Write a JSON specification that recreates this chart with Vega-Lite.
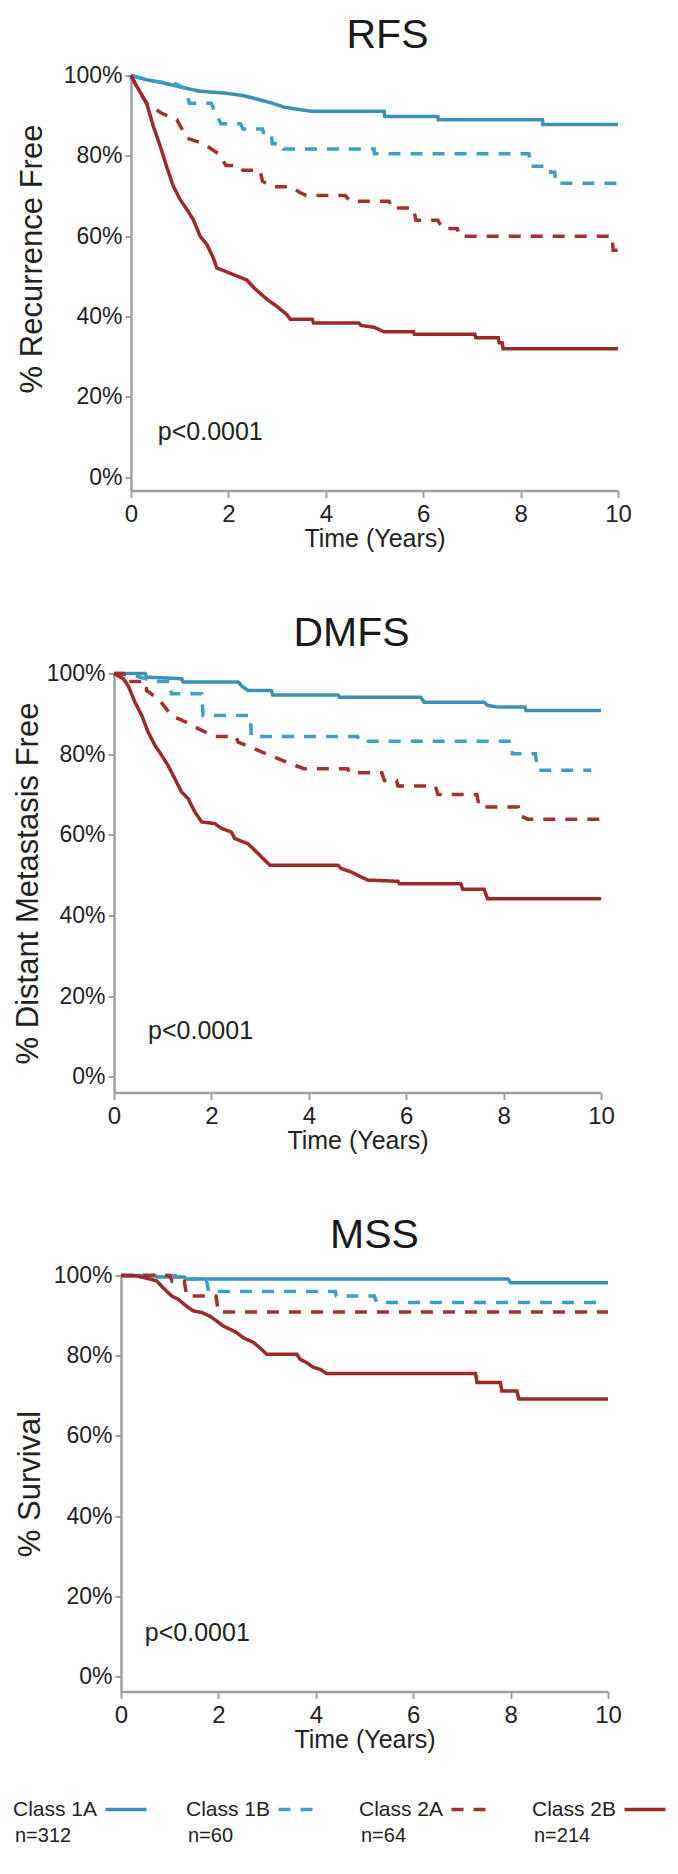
{
  "$schema": "https://vega.github.io/schema/vega-lite/v6.json",
  "background": "white",
  "padding": {"left": 10, "top": 14.5, "right": 4, "bottom": 4},
  "config": {
    "font": "Liberation Sans",
    "view": {"stroke": null},
    "axis": {"domainColor": "#a0a0a0", "domainWidth": 2.5, "tickColor": "#a0a0a0", "tickWidth": 2, "tickSize": 7, "labelColor": "#222222", "titleColor": "#222222", "grid": false, "titleFontWeight": "normal", "labelFont": "Liberation Sans", "titleFont": "Liberation Sans"},
    "axisX": {"labelFontSize": 24, "titleFontSize": 25, "labelPadding": 5, "titlePadding": 0, "labelFlush": false},
    "axisY": {"labelFontSize": 23, "titleFontSize": 31, "labelPadding": 3, "tickSize": 6},
    "title": {"fontSize": 41, "fontWeight": "normal", "color": "#1a1a1a", "offset": 8, "frame": "group"},
    "legend": {"disable": true}
  },
  "datasets": {
    "legend": [
      {"cls": "Class 1A", "n": "n=312"},
      {"cls": "Class 1B", "n": "n=60"},
      {"cls": "Class 2A", "n": "n=64"},
      {"cls": "Class 2B", "n": "n=214"}
    ],
    "pvals": [
      {"panel": "RFS", "label": "p<0.0001"},
      {"panel": "DMFS", "label": "p<0.0001"},
      {"panel": "MSS", "label": "p<0.0001"}
    ],
    "curves": [
      {"panel":"RFS","cls":"Class 1A","t":0,"s":100},{"panel":"RFS","cls":"Class 1A","t":0.3,"s":99},{"panel":"RFS","cls":"Class 1A","t":0.65,"s":98.2},{"panel":"RFS","cls":"Class 1A","t":1.0,"s":97.2},{"panel":"RFS","cls":"Class 1A","t":1.4,"s":96.1},{"panel":"RFS","cls":"Class 1A","t":1.95,"s":95.6},{"panel":"RFS","cls":"Class 1A","t":2.3,"s":95},{"panel":"RFS","cls":"Class 1A","t":2.6,"s":94.1},{"panel":"RFS","cls":"Class 1A","t":2.9,"s":93.1},{"panel":"RFS","cls":"Class 1A","t":3.15,"s":92.1},{"panel":"RFS","cls":"Class 1A","t":3.7,"s":91.1},{"panel":"RFS","cls":"Class 1A","t":5.2,"s":91.1},{"panel":"RFS","cls":"Class 1A","t":5.21,"s":89.8},{"panel":"RFS","cls":"Class 1A","t":6.3,"s":89.8},{"panel":"RFS","cls":"Class 1A","t":6.31,"s":89.0},{"panel":"RFS","cls":"Class 1A","t":8.45,"s":89.0},{"panel":"RFS","cls":"Class 1A","t":8.46,"s":87.8},{"panel":"RFS","cls":"Class 1A","t":10,"s":87.8},
      {"panel":"RFS","cls":"Class 1B","t":0,"s":100},{"panel":"RFS","cls":"Class 1B","t":0.45,"s":98.6},{"panel":"RFS","cls":"Class 1B","t":0.9,"s":98},{"panel":"RFS","cls":"Class 1B","t":1.1,"s":96.8},{"panel":"RFS","cls":"Class 1B","t":1.2,"s":93.1},{"panel":"RFS","cls":"Class 1B","t":1.65,"s":93.1},{"panel":"RFS","cls":"Class 1B","t":1.7,"s":91.5},{"panel":"RFS","cls":"Class 1B","t":1.85,"s":88.0},{"panel":"RFS","cls":"Class 1B","t":2.25,"s":88.0},{"panel":"RFS","cls":"Class 1B","t":2.3,"s":86.7},{"panel":"RFS","cls":"Class 1B","t":2.7,"s":86.7},{"panel":"RFS","cls":"Class 1B","t":2.72,"s":85.8},{"panel":"RFS","cls":"Class 1B","t":2.88,"s":85.8},{"panel":"RFS","cls":"Class 1B","t":2.9,"s":83.0},{"panel":"RFS","cls":"Class 1B","t":3.1,"s":83.0},{"panel":"RFS","cls":"Class 1B","t":3.13,"s":81.7},{"panel":"RFS","cls":"Class 1B","t":4.99,"s":81.7},{"panel":"RFS","cls":"Class 1B","t":5.0,"s":80.5},{"panel":"RFS","cls":"Class 1B","t":8.17,"s":80.5},{"panel":"RFS","cls":"Class 1B","t":8.2,"s":77.4},{"panel":"RFS","cls":"Class 1B","t":8.6,"s":77.4},{"panel":"RFS","cls":"Class 1B","t":8.62,"s":75.9},{"panel":"RFS","cls":"Class 1B","t":8.7,"s":75.9},{"panel":"RFS","cls":"Class 1B","t":8.72,"s":73.2},{"panel":"RFS","cls":"Class 1B","t":10,"s":73.2},
      {"panel":"RFS","cls":"Class 2A","t":0,"s":100},{"panel":"RFS","cls":"Class 2A","t":0.15,"s":96.4},{"panel":"RFS","cls":"Class 2A","t":0.32,"s":93.1},{"panel":"RFS","cls":"Class 2A","t":0.63,"s":90.6},{"panel":"RFS","cls":"Class 2A","t":0.94,"s":89.0},{"panel":"RFS","cls":"Class 2A","t":1.15,"s":84.4},{"panel":"RFS","cls":"Class 2A","t":1.49,"s":83.0},{"panel":"RFS","cls":"Class 2A","t":1.8,"s":80.5},{"panel":"RFS","cls":"Class 2A","t":1.95,"s":77.6},{"panel":"RFS","cls":"Class 2A","t":2.2,"s":77.6},{"panel":"RFS","cls":"Class 2A","t":2.3,"s":76.4},{"panel":"RFS","cls":"Class 2A","t":2.65,"s":76.4},{"panel":"RFS","cls":"Class 2A","t":2.7,"s":73.7},{"panel":"RFS","cls":"Class 2A","t":2.9,"s":72.3},{"panel":"RFS","cls":"Class 2A","t":3.3,"s":72.3},{"panel":"RFS","cls":"Class 2A","t":3.45,"s":71.0},{"panel":"RFS","cls":"Class 2A","t":3.6,"s":70.1},{"panel":"RFS","cls":"Class 2A","t":4.4,"s":70.1},{"panel":"RFS","cls":"Class 2A","t":4.5,"s":68.7},{"panel":"RFS","cls":"Class 2A","t":5.3,"s":68.7},{"panel":"RFS","cls":"Class 2A","t":5.35,"s":67.0},{"panel":"RFS","cls":"Class 2A","t":5.8,"s":67.0},{"panel":"RFS","cls":"Class 2A","t":5.85,"s":64.0},{"panel":"RFS","cls":"Class 2A","t":6.3,"s":64.0},{"panel":"RFS","cls":"Class 2A","t":6.4,"s":61.9},{"panel":"RFS","cls":"Class 2A","t":6.7,"s":61.9},{"panel":"RFS","cls":"Class 2A","t":6.75,"s":60.0},{"panel":"RFS","cls":"Class 2A","t":9.88,"s":60.0},{"panel":"RFS","cls":"Class 2A","t":9.9,"s":56.5},{"panel":"RFS","cls":"Class 2A","t":10,"s":56.5},
      {"panel":"RFS","cls":"Class 2B","t":0,"s":100},{"panel":"RFS","cls":"Class 2B","t":0.12,"s":97.3},{"panel":"RFS","cls":"Class 2B","t":0.32,"s":93.1},{"panel":"RFS","cls":"Class 2B","t":0.46,"s":87.3},{"panel":"RFS","cls":"Class 2B","t":0.6,"s":82.4},{"panel":"RFS","cls":"Class 2B","t":0.73,"s":77.4},{"panel":"RFS","cls":"Class 2B","t":0.87,"s":72.4},{"panel":"RFS","cls":"Class 2B","t":1.01,"s":69.1},{"panel":"RFS","cls":"Class 2B","t":1.15,"s":66.6},{"panel":"RFS","cls":"Class 2B","t":1.28,"s":64.1},{"panel":"RFS","cls":"Class 2B","t":1.42,"s":60.0},{"panel":"RFS","cls":"Class 2B","t":1.56,"s":57.9},{"panel":"RFS","cls":"Class 2B","t":1.69,"s":54.6},{"panel":"RFS","cls":"Class 2B","t":1.76,"s":52.1},{"panel":"RFS","cls":"Class 2B","t":1.97,"s":51.1},{"panel":"RFS","cls":"Class 2B","t":2.17,"s":50.1},{"panel":"RFS","cls":"Class 2B","t":2.38,"s":49.1},{"panel":"RFS","cls":"Class 2B","t":2.52,"s":47.2},{"panel":"RFS","cls":"Class 2B","t":2.79,"s":44.3},{"panel":"RFS","cls":"Class 2B","t":2.99,"s":42.6},{"panel":"RFS","cls":"Class 2B","t":3.2,"s":40.5},{"panel":"RFS","cls":"Class 2B","t":3.27,"s":39.3},{"panel":"RFS","cls":"Class 2B","t":3.72,"s":39.3},{"panel":"RFS","cls":"Class 2B","t":3.75,"s":38.4},{"panel":"RFS","cls":"Class 2B","t":4.68,"s":38.4},{"panel":"RFS","cls":"Class 2B","t":4.72,"s":37.8},{"panel":"RFS","cls":"Class 2B","t":5.0,"s":37.3},{"panel":"RFS","cls":"Class 2B","t":5.19,"s":36.2},{"panel":"RFS","cls":"Class 2B","t":5.8,"s":36.2},{"panel":"RFS","cls":"Class 2B","t":5.82,"s":35.6},{"panel":"RFS","cls":"Class 2B","t":7.06,"s":35.6},{"panel":"RFS","cls":"Class 2B","t":7.08,"s":34.7},{"panel":"RFS","cls":"Class 2B","t":7.54,"s":34.7},{"panel":"RFS","cls":"Class 2B","t":7.56,"s":33.5},{"panel":"RFS","cls":"Class 2B","t":7.62,"s":33.5},{"panel":"RFS","cls":"Class 2B","t":7.64,"s":32.0},{"panel":"RFS","cls":"Class 2B","t":10,"s":32.0},
      {"panel":"DMFS","cls":"Class 1A","t":0,"s":100},{"panel":"DMFS","cls":"Class 1A","t":0.64,"s":100},{"panel":"DMFS","cls":"Class 1A","t":0.67,"s":99.1},{"panel":"DMFS","cls":"Class 1A","t":1.39,"s":98.7},{"panel":"DMFS","cls":"Class 1A","t":1.42,"s":97.9},{"panel":"DMFS","cls":"Class 1A","t":2.55,"s":97.9},{"panel":"DMFS","cls":"Class 1A","t":2.62,"s":96.9},{"panel":"DMFS","cls":"Class 1A","t":2.75,"s":95.8},{"panel":"DMFS","cls":"Class 1A","t":3.23,"s":95.8},{"panel":"DMFS","cls":"Class 1A","t":3.26,"s":94.7},{"panel":"DMFS","cls":"Class 1A","t":4.6,"s":94.7},{"panel":"DMFS","cls":"Class 1A","t":4.63,"s":94.1},{"panel":"DMFS","cls":"Class 1A","t":6.3,"s":94.1},{"panel":"DMFS","cls":"Class 1A","t":6.37,"s":92.9},{"panel":"DMFS","cls":"Class 1A","t":7.6,"s":92.9},{"panel":"DMFS","cls":"Class 1A","t":7.67,"s":92.1},{"panel":"DMFS","cls":"Class 1A","t":7.87,"s":91.7},{"panel":"DMFS","cls":"Class 1A","t":8.44,"s":91.7},{"panel":"DMFS","cls":"Class 1A","t":8.46,"s":90.8},{"panel":"DMFS","cls":"Class 1A","t":10,"s":90.8},
      {"panel":"DMFS","cls":"Class 1B","t":0,"s":100},{"panel":"DMFS","cls":"Class 1B","t":0.5,"s":99.2},{"panel":"DMFS","cls":"Class 1B","t":0.84,"s":98.0},{"panel":"DMFS","cls":"Class 1B","t":1.15,"s":98.0},{"panel":"DMFS","cls":"Class 1B","t":1.18,"s":95.0},{"panel":"DMFS","cls":"Class 1B","t":1.8,"s":95.0},{"panel":"DMFS","cls":"Class 1B","t":1.83,"s":89.6},{"panel":"DMFS","cls":"Class 1B","t":2.8,"s":89.6},{"panel":"DMFS","cls":"Class 1B","t":2.82,"s":84.4},{"panel":"DMFS","cls":"Class 1B","t":5.0,"s":84.4},{"panel":"DMFS","cls":"Class 1B","t":5.04,"s":83.2},{"panel":"DMFS","cls":"Class 1B","t":8.15,"s":83.2},{"panel":"DMFS","cls":"Class 1B","t":8.18,"s":80.1},{"panel":"DMFS","cls":"Class 1B","t":8.65,"s":80.1},{"panel":"DMFS","cls":"Class 1B","t":8.7,"s":76.0},{"panel":"DMFS","cls":"Class 1B","t":9.8,"s":76.0},
      {"panel":"DMFS","cls":"Class 2A","t":0,"s":100},{"panel":"DMFS","cls":"Class 2A","t":0.2,"s":100},{"panel":"DMFS","cls":"Class 2A","t":0.23,"s":98.0},{"panel":"DMFS","cls":"Class 2A","t":0.65,"s":98.0},{"panel":"DMFS","cls":"Class 2A","t":0.67,"s":95.8},{"panel":"DMFS","cls":"Class 2A","t":0.94,"s":93.3},{"panel":"DMFS","cls":"Class 2A","t":1.18,"s":89.6},{"panel":"DMFS","cls":"Class 2A","t":1.5,"s":87.8},{"panel":"DMFS","cls":"Class 2A","t":1.8,"s":85.9},{"panel":"DMFS","cls":"Class 2A","t":2.07,"s":84.4},{"panel":"DMFS","cls":"Class 2A","t":2.5,"s":84.4},{"panel":"DMFS","cls":"Class 2A","t":2.55,"s":83.0},{"panel":"DMFS","cls":"Class 2A","t":2.87,"s":81.4},{"panel":"DMFS","cls":"Class 2A","t":3.2,"s":79.7},{"panel":"DMFS","cls":"Class 2A","t":3.55,"s":78.0},{"panel":"DMFS","cls":"Class 2A","t":3.9,"s":76.4},{"panel":"DMFS","cls":"Class 2A","t":4.8,"s":76.4},{"panel":"DMFS","cls":"Class 2A","t":4.83,"s":75.4},{"panel":"DMFS","cls":"Class 2A","t":5.5,"s":75.4},{"panel":"DMFS","cls":"Class 2A","t":5.55,"s":73.5},{"panel":"DMFS","cls":"Class 2A","t":5.8,"s":73.5},{"panel":"DMFS","cls":"Class 2A","t":5.83,"s":72.1},{"panel":"DMFS","cls":"Class 2A","t":6.6,"s":72.1},{"panel":"DMFS","cls":"Class 2A","t":6.65,"s":70.0},{"panel":"DMFS","cls":"Class 2A","t":7.45,"s":70.0},{"panel":"DMFS","cls":"Class 2A","t":7.5,"s":66.9},{"panel":"DMFS","cls":"Class 2A","t":8.3,"s":66.9},{"panel":"DMFS","cls":"Class 2A","t":8.32,"s":64.9},{"panel":"DMFS","cls":"Class 2A","t":8.49,"s":63.9},{"panel":"DMFS","cls":"Class 2A","t":10,"s":63.9},
      {"panel":"DMFS","cls":"Class 2B","t":0,"s":100},{"panel":"DMFS","cls":"Class 2B","t":0.19,"s":98.7},{"panel":"DMFS","cls":"Class 2B","t":0.29,"s":97.0},{"panel":"DMFS","cls":"Class 2B","t":0.43,"s":92.9},{"panel":"DMFS","cls":"Class 2B","t":0.57,"s":89.6},{"panel":"DMFS","cls":"Class 2B","t":0.7,"s":85.5},{"panel":"DMFS","cls":"Class 2B","t":0.84,"s":82.2},{"panel":"DMFS","cls":"Class 2B","t":0.98,"s":79.7},{"panel":"DMFS","cls":"Class 2B","t":1.11,"s":77.2},{"panel":"DMFS","cls":"Class 2B","t":1.25,"s":73.9},{"panel":"DMFS","cls":"Class 2B","t":1.39,"s":70.6},{"panel":"DMFS","cls":"Class 2B","t":1.52,"s":69.0},{"panel":"DMFS","cls":"Class 2B","t":1.66,"s":65.7},{"panel":"DMFS","cls":"Class 2B","t":1.8,"s":63.2},{"panel":"DMFS","cls":"Class 2B","t":2.07,"s":62.8},{"panel":"DMFS","cls":"Class 2B","t":2.21,"s":61.6},{"panel":"DMFS","cls":"Class 2B","t":2.41,"s":60.7},{"panel":"DMFS","cls":"Class 2B","t":2.48,"s":59.1},{"panel":"DMFS","cls":"Class 2B","t":2.75,"s":57.8},{"panel":"DMFS","cls":"Class 2B","t":2.89,"s":56.2},{"panel":"DMFS","cls":"Class 2B","t":3.03,"s":54.5},{"panel":"DMFS","cls":"Class 2B","t":3.2,"s":52.5},{"panel":"DMFS","cls":"Class 2B","t":4.6,"s":52.5},{"panel":"DMFS","cls":"Class 2B","t":4.66,"s":51.7},{"panel":"DMFS","cls":"Class 2B","t":4.87,"s":50.8},{"panel":"DMFS","cls":"Class 2B","t":5.07,"s":49.6},{"panel":"DMFS","cls":"Class 2B","t":5.21,"s":48.8},{"panel":"DMFS","cls":"Class 2B","t":5.83,"s":48.5},{"panel":"DMFS","cls":"Class 2B","t":5.86,"s":47.9},{"panel":"DMFS","cls":"Class 2B","t":7.12,"s":47.9},{"panel":"DMFS","cls":"Class 2B","t":7.16,"s":46.5},{"panel":"DMFS","cls":"Class 2B","t":7.6,"s":46.5},{"panel":"DMFS","cls":"Class 2B","t":7.67,"s":44.2},{"panel":"DMFS","cls":"Class 2B","t":10,"s":44.2},
      {"panel":"MSS","cls":"Class 1A","t":0,"s":100},{"panel":"MSS","cls":"Class 1A","t":0.7,"s":100},{"panel":"MSS","cls":"Class 1A","t":0.75,"s":99.6},{"panel":"MSS","cls":"Class 1A","t":1.3,"s":99.6},{"panel":"MSS","cls":"Class 1A","t":1.35,"s":99.1},{"panel":"MSS","cls":"Class 1A","t":7.95,"s":99.1},{"panel":"MSS","cls":"Class 1A","t":8.0,"s":98.2},{"panel":"MSS","cls":"Class 1A","t":10,"s":98.2},
      {"panel":"MSS","cls":"Class 1B","t":0,"s":100},{"panel":"MSS","cls":"Class 1B","t":1.3,"s":100},{"panel":"MSS","cls":"Class 1B","t":1.32,"s":99.1},{"panel":"MSS","cls":"Class 1B","t":1.75,"s":99.1},{"panel":"MSS","cls":"Class 1B","t":1.8,"s":96.0},{"panel":"MSS","cls":"Class 1B","t":4.4,"s":96.0},{"panel":"MSS","cls":"Class 1B","t":4.42,"s":94.9},{"panel":"MSS","cls":"Class 1B","t":5.2,"s":94.9},{"panel":"MSS","cls":"Class 1B","t":5.25,"s":93.3},{"panel":"MSS","cls":"Class 1B","t":9.8,"s":93.3},
      {"panel":"MSS","cls":"Class 2A","t":0,"s":100},{"panel":"MSS","cls":"Class 2A","t":1.0,"s":100},{"panel":"MSS","cls":"Class 2A","t":1.05,"s":98.5},{"panel":"MSS","cls":"Class 2A","t":1.3,"s":98.5},{"panel":"MSS","cls":"Class 2A","t":1.35,"s":94.9},{"panel":"MSS","cls":"Class 2A","t":1.95,"s":94.9},{"panel":"MSS","cls":"Class 2A","t":2.0,"s":90.9},{"panel":"MSS","cls":"Class 2A","t":10,"s":90.9},
      {"panel":"MSS","cls":"Class 2B","t":0,"s":100},{"panel":"MSS","cls":"Class 2B","t":0.32,"s":99.9},{"panel":"MSS","cls":"Class 2B","t":0.59,"s":99.1},{"panel":"MSS","cls":"Class 2B","t":0.73,"s":98.7},{"panel":"MSS","cls":"Class 2B","t":0.86,"s":97.0},{"panel":"MSS","cls":"Class 2B","t":1.04,"s":94.9},{"panel":"MSS","cls":"Class 2B","t":1.17,"s":94.1},{"panel":"MSS","cls":"Class 2B","t":1.34,"s":92.4},{"panel":"MSS","cls":"Class 2B","t":1.48,"s":91.2},{"panel":"MSS","cls":"Class 2B","t":1.65,"s":90.8},{"panel":"MSS","cls":"Class 2B","t":1.82,"s":89.9},{"panel":"MSS","cls":"Class 2B","t":1.96,"s":88.7},{"panel":"MSS","cls":"Class 2B","t":2.1,"s":87.4},{"panel":"MSS","cls":"Class 2B","t":2.24,"s":86.6},{"panel":"MSS","cls":"Class 2B","t":2.37,"s":85.8},{"panel":"MSS","cls":"Class 2B","t":2.51,"s":84.5},{"panel":"MSS","cls":"Class 2B","t":2.72,"s":83.3},{"panel":"MSS","cls":"Class 2B","t":2.85,"s":82.0},{"panel":"MSS","cls":"Class 2B","t":2.99,"s":80.4},{"panel":"MSS","cls":"Class 2B","t":3.61,"s":80.4},{"panel":"MSS","cls":"Class 2B","t":3.68,"s":79.1},{"panel":"MSS","cls":"Class 2B","t":3.81,"s":78.3},{"panel":"MSS","cls":"Class 2B","t":3.95,"s":77.1},{"panel":"MSS","cls":"Class 2B","t":4.09,"s":76.6},{"panel":"MSS","cls":"Class 2B","t":4.22,"s":75.6},{"panel":"MSS","cls":"Class 2B","t":7.28,"s":75.6},{"panel":"MSS","cls":"Class 2B","t":7.31,"s":73.3},{"panel":"MSS","cls":"Class 2B","t":7.79,"s":73.3},{"panel":"MSS","cls":"Class 2B","t":7.82,"s":71.2},{"panel":"MSS","cls":"Class 2B","t":8.13,"s":71.2},{"panel":"MSS","cls":"Class 2B","t":8.17,"s":69.2},{"panel":"MSS","cls":"Class 2B","t":10,"s":69.2}
    ]
  },
  "spacing": 46,
  "vconcat": [
    {
      "spacing": 61,
      "vconcat": [
        {
          "spacing": 0,
          "hconcat": [
            {"width": 6, "height": 10, "data": {"values": []}, "mark": "point"},
            {
              "title": {"text": "RFS", "dx": 13},
              "width": 487, "height": 415,
              "layer": [
                {
                  "data": {"name": "curves"},
                  "transform": [{"filter": "datum.panel === 'RFS'"}],
                  "mark": {"type": "line", "strokeWidth": 3.5},
                  "encoding": {
                    "x": {"field": "t", "type": "quantitative", "scale": {"domain": [0, 10], "nice": false, "zero": false}, "axis": {"values": [0, 2, 4, 6, 8, 10], "title": "Time (Years)"}},
                    "y": {"field": "s", "type": "quantitative", "scale": {"domain": [-3.3, 100], "nice": false, "zero": false}, "axis": {"values": [0, 20, 40, 60, 80, 100], "labelExpr": "datum.value + '%'", "title": "% Recurrence Free", "titlePadding": 15, "titleY": 183}},
                    "color": {"field": "cls", "type": "nominal", "scale": {"domain": ["Class 1A", "Class 1B", "Class 2A", "Class 2B"], "range": ["#3a91b8", "#3c9fc8", "#a3302e", "#9b2a29"]}, "legend": null},
                    "strokeDash": {"field": "cls", "type": "nominal", "scale": {"domain": ["Class 1A", "Class 1B", "Class 2A", "Class 2B"], "range": [[1, 0], [12, 10], [12, 10], [1, 0]]}, "legend": null}
                  }
                },
                {
                  "data": {"name": "pvals"},
                  "transform": [{"filter": "datum.panel === 'RFS'"}],
                  "mark": {"type": "text", "align": "left", "baseline": "middle", "fontSize": 25, "color": "#222222"},
                  "encoding": {
                    "x": {"datum": 0.55, "type": "quantitative"},
                    "y": {"datum": 11.3, "type": "quantitative"},
                    "text": {"field": "label"}
                  }
                }
              ]
            }
          ]
        },
        {
          "spacing": 0,
          "hconcat": [
            {"width": 2, "height": 10, "data": {"values": []}, "mark": "point"},
            {
              "title": {"text": "DMFS", "dx": -6},
              "width": 487, "height": 419,
              "layer": [
                {
                  "data": {"name": "curves"},
                  "transform": [{"filter": "datum.panel === 'DMFS'"}],
                  "mark": {"type": "line", "strokeWidth": 3.5},
                  "encoding": {
                    "x": {"field": "t", "type": "quantitative", "scale": {"domain": [0, 10], "nice": false, "zero": false}, "axis": {"values": [0, 2, 4, 6, 8, 10], "title": "Time (Years)"}},
                    "y": {"field": "s", "type": "quantitative", "scale": {"domain": [-3.85, 100], "nice": false, "zero": false}, "axis": {"values": [0, 20, 40, 60, 80, 100], "labelExpr": "datum.value + '%'", "title": "% Distant Metastasis Free", "titlePadding": 2}},
                    "color": {"field": "cls", "type": "nominal", "legend": null},
                    "strokeDash": {"field": "cls", "type": "nominal", "legend": null}
                  }
                },
                {
                  "data": {"name": "pvals"},
                  "transform": [{"filter": "datum.panel === 'DMFS'"}],
                  "mark": {"type": "text", "align": "left", "baseline": "middle", "fontSize": 25, "color": "#222222"},
                  "encoding": {
                    "x": {"datum": 0.7, "type": "quantitative"},
                    "y": {"datum": 11.3, "type": "quantitative"},
                    "text": {"field": "label"}
                  }
                }
              ]
            }
          ]
        },
        {
          "spacing": 0,
          "hconcat": [
            {"width": 4, "height": 10, "data": {"values": []}, "mark": "point"},
            {
              "title": {"text": "MSS", "dx": 10},
              "width": 487, "height": 416,
              "layer": [
                {
                  "data": {"name": "curves"},
                  "transform": [{"filter": "datum.panel === 'MSS'"}],
                  "mark": {"type": "line", "strokeWidth": 3.5},
                  "encoding": {
                    "x": {"field": "t", "type": "quantitative", "scale": {"domain": [0, 10], "nice": false, "zero": false}, "axis": {"values": [0, 2, 4, 6, 8, 10], "title": "Time (Years)"}},
                    "y": {"field": "s", "type": "quantitative", "scale": {"domain": [-3.7, 100], "nice": false, "zero": false}, "axis": {"values": [0, 20, 40, 60, 80, 100], "labelExpr": "datum.value + '%'", "title": "% Survival", "titlePadding": 7}},
                    "color": {"field": "cls", "type": "nominal", "legend": null},
                    "strokeDash": {"field": "cls", "type": "nominal", "legend": null}
                  }
                },
                {
                  "data": {"name": "pvals"},
                  "transform": [{"filter": "datum.panel === 'MSS'"}],
                  "mark": {"type": "text", "align": "left", "baseline": "middle", "fontSize": 25, "color": "#222222"},
                  "encoding": {
                    "x": {"datum": 0.49, "type": "quantitative"},
                    "y": {"datum": 11.0, "type": "quantitative"},
                    "text": {"field": "label"}
                  }
                }
              ]
            }
          ]
        }
      ]
    },
    {
      "width": 519, "height": 20,
      "data": {"name": "legend"},
      "encoding": {
        "x": {"field": "cls", "type": "nominal", "sort": null, "scale": {"type": "point", "padding": 0}, "axis": null}
      },
      "layer": [
        {
          "mark": {"type": "text", "align": "left", "baseline": "middle", "fontSize": 21, "color": "#222222", "dx": 3},
          "encoding": {"text": {"field": "cls"}}
        },
        {
          "mark": {"type": "text", "align": "left", "baseline": "middle", "fontSize": 20, "color": "#222222", "dy": 26, "dx": 5},
          "encoding": {"text": {"field": "n"}}
        },
        {
          "mark": {"type": "point", "shape": "stroke", "size": 1681, "strokeWidth": 3.5, "filled": false, "opacity": 1, "xOffset": 116},
          "encoding": {
            "color": {"field": "cls", "type": "nominal", "legend": null},
            "strokeDash": {"field": "cls", "type": "nominal", "legend": null}
          }
        }
      ]
    }
  ]
}
